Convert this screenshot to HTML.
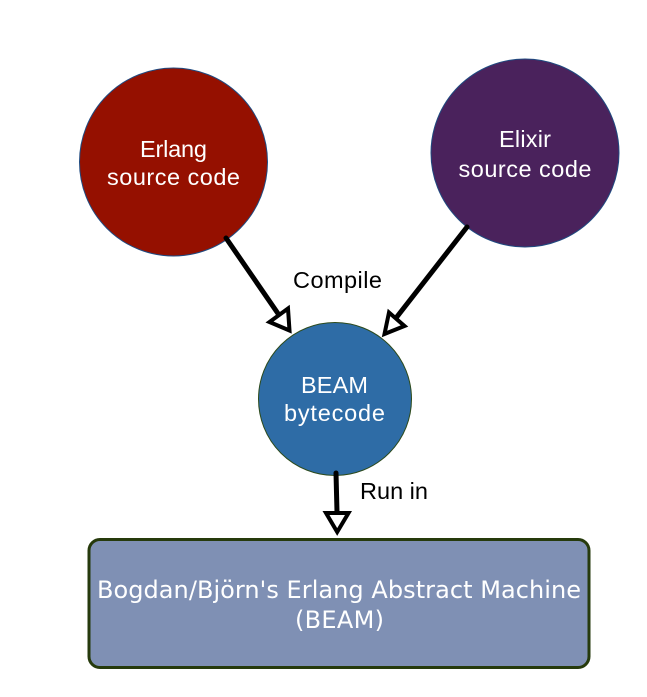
<!DOCTYPE html>
<html>
<head>
<meta charset="utf-8">
<style>
html,body{margin:0;padding:0;background:#fff;width:647px;height:697px;overflow:hidden}
svg{display:block}
.s{font-family:"Liberation Sans",sans-serif;font-size:23.500px;fill:#fff;text-anchor:middle}
.k{font-family:"Liberation Sans",sans-serif;font-size:23.500px;fill:#000}
.d{font-family:"DejaVu Sans",sans-serif;font-size:24px;fill:#fff;text-anchor:middle}
</style>
</head>
<body>
<svg width="647" height="697" viewBox="0 0 647 697" xmlns="http://www.w3.org/2000/svg">
<circle cx="173.500" cy="162" r="94" fill="#951000" stroke="#1f4a80" stroke-width="1"/>
<circle cx="525" cy="153" r="94" fill="#4a225c" stroke="#1f4a80" stroke-width="1"/>
<circle cx="335" cy="399" r="76.500" fill="#2e6ca6" stroke="#2c4a1c" stroke-width="1"/>
<rect x="89" y="539.500" width="500" height="128" rx="11" ry="11" fill="#7f90b4" stroke="#263a0c" stroke-width="3"/>
<g fill="none" stroke="#000" stroke-width="5" stroke-linecap="round">
<line x1="226" y1="238" x2="279" y2="315"/>
<polygon points="289.500,330.500 269.500,322 288,308.500" fill="#fff" stroke-width="4"/>
<line x1="467" y1="227" x2="396" y2="318"/>
<polygon points="384.500,334 389,312.500 404.500,326" fill="#fff" stroke-width="4"/>
<line x1="336" y1="473" x2="337" y2="512"/>
<polygon points="337.200,532 326,513 348.500,513" fill="#fff" stroke-width="4"/>
</g>
<text class="s" x="173.500" y="157" textLength="67" lengthAdjust="spacing">Erlang</text>
<text class="s" x="173.500" y="185" textLength="133" lengthAdjust="spacing">source code</text>
<text class="s" x="525" y="147" textLength="52" lengthAdjust="spacing">Elixir</text>
<text class="s" x="525" y="177" textLength="133" lengthAdjust="spacing">source code</text>
<text class="s" x="334.500" y="393" textLength="67" lengthAdjust="spacing">BEAM</text>
<text class="s" x="334.500" y="421" textLength="101" lengthAdjust="spacing">bytecode</text>
<text class="k" x="293" y="288" textLength="89" lengthAdjust="spacing">Compile</text>
<text class="k" x="360" y="499" textLength="68" lengthAdjust="spacing">Run in</text>
<text class="d" x="339" y="598" textLength="484" lengthAdjust="spacing">Bogdan/Björn's Erlang Abstract Machine</text>
<text class="d" x="339.500" y="628" textLength="89" lengthAdjust="spacing">(BEAM)</text>
</svg>
</body>
</html>
